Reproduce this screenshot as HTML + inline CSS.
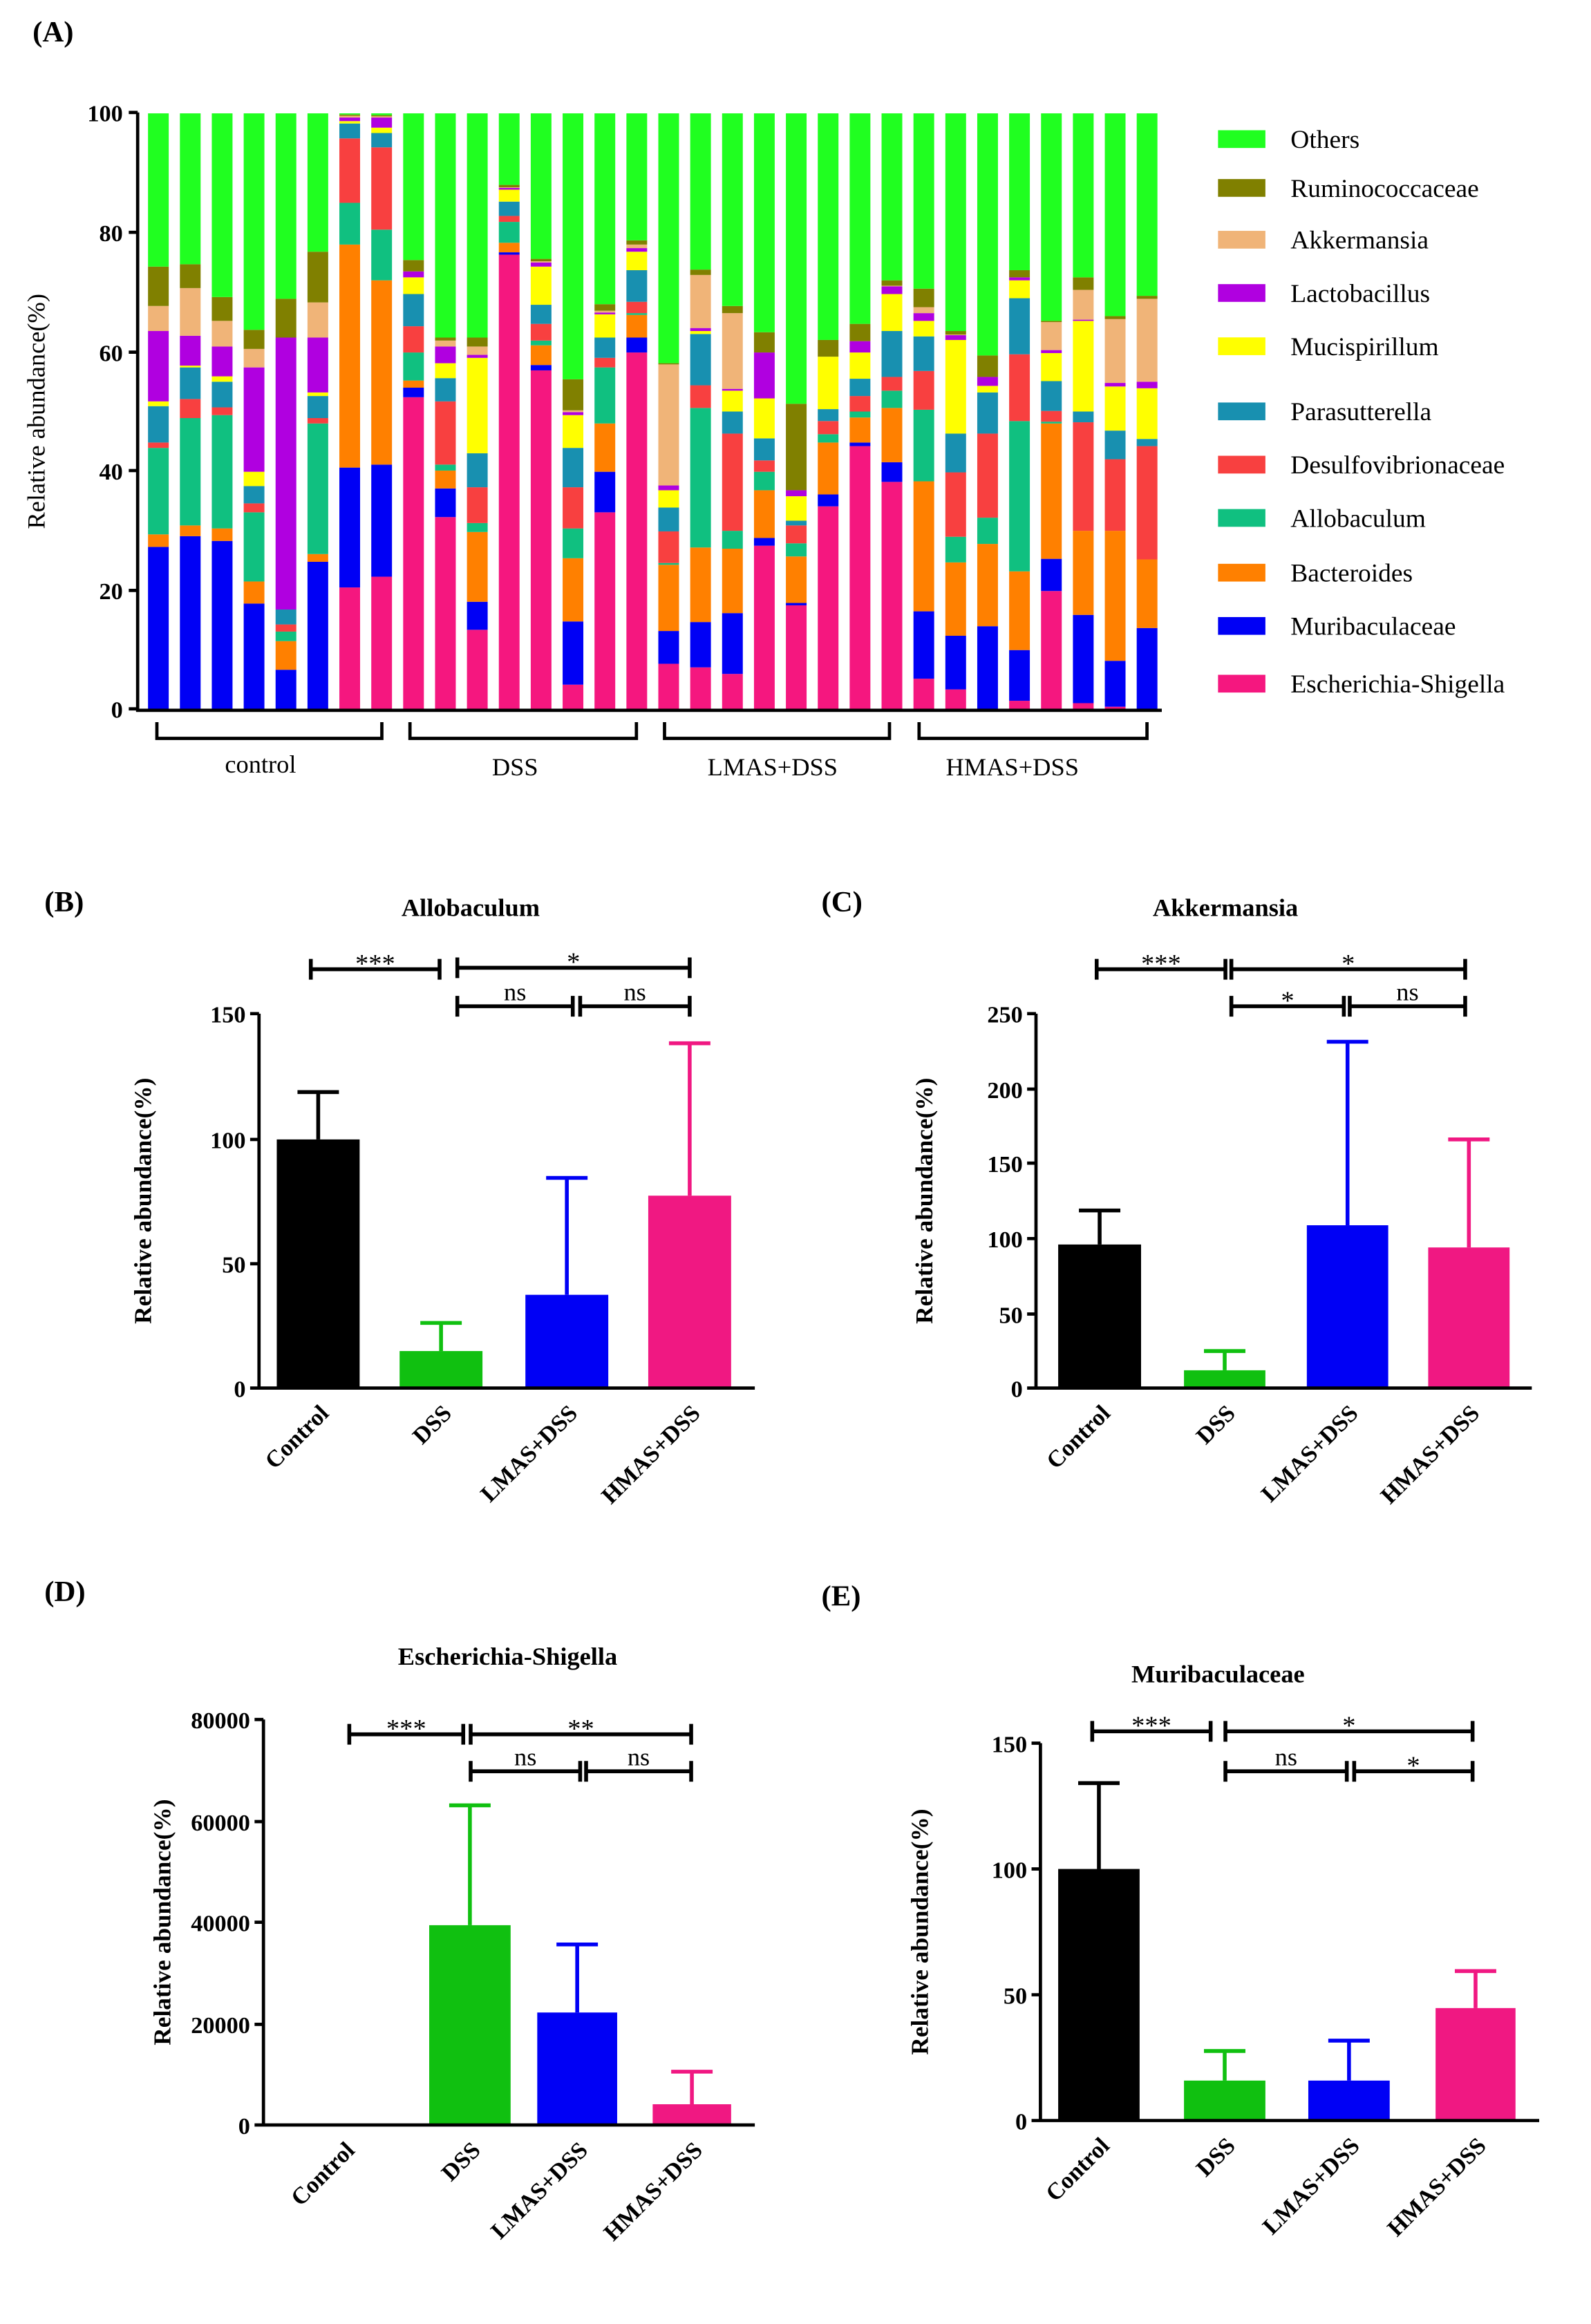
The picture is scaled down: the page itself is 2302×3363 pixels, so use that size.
<!DOCTYPE html>
<html><head><meta charset="utf-8"><style>html,body{margin:0;padding:0;background:#fff}svg{display:block}text{font-family:"Liberation Serif",serif}</style></head>
<body>
<svg id="s" width="2302" height="3363" viewBox="0 0 1075 1570.5" xmlns="http://www.w3.org/2000/svg">
<rect width="1075" height="1570.5" fill="#fff"/>
<text x="22" y="28" font-size="20" font-weight="bold">(A)</text>
<g id="bars"></g>
<g stroke="#000" stroke-width="2.2" fill="none">
<path d="M93 76V481M87 76H93M87 157H93M87 238H93M87 318H93M87 399H93M87 479H93M92 480H785"/>
<path d="M106 488V499H258V488M277 488V499H430V488M449 488V499H601V488M621 488V499H775V488"/>
</g>
<g font-size="16" font-weight="bold" text-anchor="end">
<text x="83" y="82">100</text><text x="83" y="163">80</text><text x="83" y="244">60</text><text x="83" y="324">40</text><text x="83" y="405">20</text><text x="83" y="485">0</text>
</g>
<text transform="translate(30,278) rotate(-90)" font-size="17" text-anchor="middle">Relative abundance(%)</text>
<g font-size="17" text-anchor="middle"><text x="176" y="522">control</text><text x="348" y="524">DSS</text><text x="522" y="524">LMAS+DSS</text><text x="684" y="524">HMAS+DSS</text></g>
<g id="leg" font-size="17.5"></g>
<g id="panels"></g>
</svg>
<script>
const C=["#F5177F","#0000F5","#FF8000","#10C080","#F84040","#1890B0","#FFFF00","#B000E0","#F0B478","#808000","#20FF20"];
const D=[[0,27.3,29.4,43.9,44.8,50.9,51.7,63.5,67.7,74.3],[0,29.1,30.9,48.9,52.1,57.4,57.7,62.7,70.7,74.7],[0,28.3,30.4,49.4,50.7,55,55.9,60.9,65.2,69.2],[0,17.8,21.5,33.1,34.6,37.5,39.9,57.4,60.5,63.7],[0,6.7,11.5,13.1,14.3,16.8,16.8,62.4,62.4,68.9],[0,24.8,26.1,48,48.9,52.6,53.2,62.4,68.3,76.8],[20.5,40.6,78,85,95.8,98.3,98.7,99.3,99.6,99.8],[22.3,41.1,72,80.5,94.3,96.7,97.6,99.3,99.5,99.7],
[52.4,54,55.2,59.9,64.3,69.7,72.5,73.5,73.5,75.4],[32.3,37.1,40.1,41.1,51.7,55.6,58.1,60.9,61.9,62.4],[13.4,18.1,29.8,31.3,37.3,43,59,59.5,60.9,62.4],[76.3,76.7,78.3,81.8,82.8,85.2,87.2,87.5,87.6,88],[56.9,57.8,61.1,61.9,64.7,67.9,74.3,75,75.2,75.6],[4.2,14.8,25.4,30.4,37.3,43.9,49.4,49.9,50.2,55.4],[33.1,39.9,48,57.4,59,62.4,66.3,66.6,66.9,68],[59.9,62.4,66.2,66.5,68.4,73.7,76.8,77.4,78,78.7],
[7.7,13.2,24.3,24.6,29.9,33.9,36.8,37.6,57.9,58.1],[7.1,14.7,27.2,50.6,54.4,63,63.5,64,72.9,73.8],[6,16.2,27,30,46.3,50,53.5,53.8,66.5,67.7],[27.5,28.8,36.8,39.9,41.8,45.5,52.2,59.9,59.9,63.3],[17.5,17.9,25.7,27.9,30.9,31.7,35.8,36.8,36.8,51.3],[34.1,36.1,44.8,46.2,48.4,50.4,59.2,59.2,59.2,62],[44.2,44.8,49,50,52.6,55.5,59.9,61.8,61.8,64.7],[38.2,41.5,50.6,53.5,55.8,63.5,69.7,71,71.1,72],
[5.2,16.5,38.3,50.3,56.8,62.6,65.2,66.5,67.5,70.6],[3.4,12.4,24.7,29,39.8,46.3,62,62.8,62.9,63.5],[0,14,27.8,32.2,46.3,53.2,54.3,55.8,55.8,59.4],[1.5,10,23.2,48.4,59.6,69,72,72.5,72.5,73.7],[19.9,25.3,48,48.3,50.1,55.1,59.8,60.3,65,65.2],[1.1,15.9,30,30,48.2,50,65.2,65.4,70.4,72.5],[0.5,8.2,30,30,42,46.8,54.2,54.8,65.5,66],[0,13.7,25.2,25.2,44.2,45.4,53.9,55,68.9,69.4]];
const NS="http://www.w3.org/2000/svg";
function el(p,t,a,txt){const e=document.createElementNS(NS,t);for(const k in a)e.setAttribute(k,a[k]);if(txt!==undefined)e.textContent=txt;p.appendChild(e);return e;}
const Y=p=>479.6-p*4.03;
const g=document.getElementById('bars');
D.forEach((b,i)=>{const x=100+21.55*i;let prev=0;const v=b.concat([100]);v.forEach((t,j)=>{if(t>prev){el(g,'rect',{x:x,y:Y(t),width:14,height:Y(prev)-Y(t),fill:C[j]});}prev=Math.max(prev,t);});});
const L=[["Others",94,10],["Ruminococcaceae",127,9],["Akkermansia",162,8],["Lactobacillus",198,7],["Mucispirillum",234,6],["Parasutterella",278,5],["Desulfovibrionaceae",314,4],["Allobaculum",350,3],["Bacteroides",387,2],["Muribaculaceae",423,1],["Escherichia-Shigella",462,0]];
const lg=document.getElementById('leg');
L.forEach(([n,y,c])=>{el(lg,'rect',{x:823,y:y-6,width:32,height:12,fill:C[c]});el(lg,'text',{x:872,y:y+6},n);});
const P=document.getElementById('panels');
const cols=["#000","#10C010","#0000F5","#F01882"];
const names=["Control","DSS","LMAS+DSS","HMAS+DSS"];
function panel(o){
 el(P,'text',{x:o.lx,y:o.ly,'font-size':20,'font-weight':'bold'},o.lab);
 el(P,'text',{x:o.tx,y:o.ty,'font-size':17,'font-weight':'bold','text-anchor':'middle'},o.title);
 el(P,'text',{transform:`translate(${o.ytx},${(o.top+o.bot)/2}) rotate(-90)`,'font-size':16.5,'font-weight':'bold','text-anchor':'middle'},"Relative abundance(%)");
 o.bars.forEach((b,i)=>{const [x1,x2,t,e]=b;const c=cols[i];const cx=(x1+x2)/2;
  if(t!==null){el(P,'rect',{x:x1,y:t,width:x2-x1,height:o.bot-t,fill:c});
  el(P,'path',{d:`M${cx} ${t}V${e}M${cx-14} ${e}H${cx+14}`,stroke:c,'stroke-width':2.6,fill:'none'});}
  el(P,'text',{transform:`translate(${cx+8},${o.bot+18}) rotate(-45)`,'font-size':16,'font-weight':'bold','text-anchor':'end'},names[i]);});
 let d=`M${o.ax} ${o.top}V${o.bot+1}M${o.ax-1} ${o.bot}H${o.axe}`;
 o.ticks.forEach(([v,y])=>{d+=`M${o.ax-6} ${y}H${o.ax}`;el(P,'text',{x:o.ax-9,y:y+6,'font-size':16,'font-weight':'bold','text-anchor':'end'},v);});
 el(P,'path',{d:d,stroke:'#000','stroke-width':2.2,fill:'none'});
 o.sig.forEach(([x1,x2,y,s])=>{el(P,'path',{d:`M${x1} ${y-7}V${y+7}M${x2} ${y-7}V${y+7}M${x1} ${y}H${x2}`,stroke:'#000','stroke-width':2.6,fill:'none'});
  el(P,'text',{x:(x1+x2)/2,y:s=='ns'?y-4:y+2,'font-size':s=='ns'?17:18,'text-anchor':'middle'},s);});
}
panel({lab:"(B)",lx:30,ly:616,title:"Allobaculum",tx:318,ty:619,ytx:102,ax:175,axe:510,top:685,bot:938,
 ticks:[["150",685],["100",770],["50",854],["0",938]],
 bars:[[187,243,770,738],[270,326,913,894],[355,411,875,796],[438,494,808,705]],
 sig:[[210,297,655,"***"],[309,466,654,"*"],[309,387,680,"ns"],[392,466,680,"ns"]]});
panel({lab:"(C)",lx:555,ly:616,title:"Akkermansia",tx:828,ty:619,ytx:630,ax:700,axe:1035,top:685,bot:938,
 ticks:[["250",685],["200",736],["150",786],["100",837],["50",888],["0",938]],
 bars:[[715,771,841,818],[800,855,926,913],[883,938,828,704],[965,1020,843,770]],
 sig:[[741,828,655,"***"],[832,990,655,"*"],[832,908,680,"*"],[912,990,680,"ns"]]});
panel({lab:"(D)",lx:30,ly:1082,title:"Escherichia-Shigella",tx:343,ty:1125,ytx:115,ax:178,axe:510,top:1162,bot:1436,
 ticks:[["80000",1162],["60000",1231],["40000",1299],["20000",1368],["0",1436]],
 bars:[[205,260,null,null],[290,345,1301,1220],[363,417,1360,1314],[441,494,1422,1400]],
 sig:[[236,313,1172,"***"],[318,467,1172,"**"],[318,392,1197,"ns"],[396,467,1197,"ns"]]});
panel({lab:"(E)",lx:555,ly:1085,title:"Muribaculaceae",tx:823,ty:1137,ytx:627,ax:703,axe:1040,top:1178,bot:1433,
 ticks:[["150",1178],["100",1263],["50",1348],["0",1433]],
 bars:[[715,770,1263,1205],[800,855,1406,1386],[884,939,1406,1379],[970,1024,1357,1332]],
 sig:[[738,818,1170,"***"],[828,995,1170,"*"],[828,910,1197,"ns"],[915,995,1197,"*"]]});
</script>
</body></html>
